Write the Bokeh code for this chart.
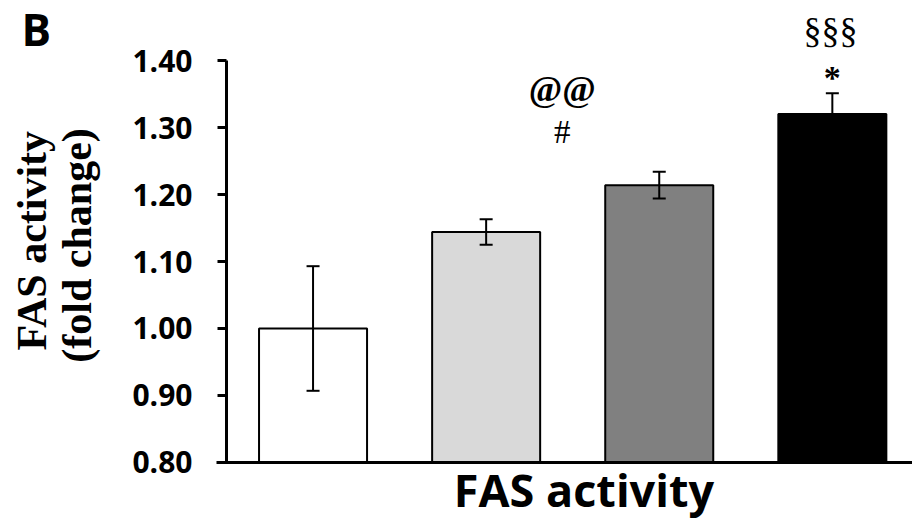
import math
from bokeh.plotting import figure
from bokeh.models import (ColumnDataSource, Range1d, FixedTicker, PrintfTickFormatter,
                          Whisker, TeeHead, Label)
from bokeh.embed import file_html
from bokeh.resources import INLINE

# ---- data ----
groups = [1, 2, 3, 4]
means = [1.000, 1.144, 1.214, 1.320]
errors = [0.093, 0.019, 0.020, 0.031]
bar_colors = ["#ffffff", "#d9d9d9", "#808080", "#000000"]
y_ticks = [0.80, 0.90, 1.00, 1.10, 1.20, 1.30, 1.40]
y_title = ["FAS activity", "(fold change)"]
x_title = "FAS activity"
panel_letter = "B"
marks_top = [("@@", 2.44, 1.357, "bold", "36px"), ("#", 2.44, 1.293, "normal", "33px"),
             ("\u00a7\u00a7\u00a7", 3.99, 1.446, "normal", "36px"), ("*", 4.00, 1.375, "bold", "34px")]

src = ColumnDataSource(dict(
    x=groups, top=means, color=bar_colors,
    upper=[m + e for m, e in zip(means, errors)],
    lower=[m - e for m, e in zip(means, errors)],
))

X0, X1 = -0.8056, 4.4631
Y0, Y1 = 0.7119, 1.4896
p = figure(width=912, height=521, output_backend="svg", toolbar_location=None,
           x_range=Range1d(X0, X1), y_range=Range1d(Y0, Y1),
           min_border_left=0, min_border_right=0, min_border_top=0, min_border_bottom=0)
p.outline_line_color = None
p.grid.visible = False
p.background_fill_color = "white"

p.vbar(x="x", top="top", bottom=0.8, width=0.624, source=src, fill_color="color",
       line_color="black", line_width=2)

w = Whisker(base="x", upper="upper", lower="lower", source=src, line_color="black", line_width=2,
            upper_head=TeeHead(size=13, line_width=2, line_color="black"),
            lower_head=TeeHead(size=13, line_width=2, line_color="black"), level="overlay")
p.add_layout(w)

# y axis
ya = p.yaxis[0]
ya.fixed_location = 0.5
ya.bounds = (0.8, 1.4)
ya.ticker = FixedTicker(ticks=y_ticks)
ya.formatter = PrintfTickFormatter(format="%.2f")
ya.axis_line_width = 3
ya.axis_line_color = "black"
ya.major_tick_line_width = 3
ya.major_tick_out = 9
ya.major_tick_in = 0
ya.minor_tick_line_color = None
ya.major_label_text_font = "Open Sans"
ya.major_label_text_font_style = "bold"
ya.major_label_text_font_size = "30px"
ya.major_label_text_color = "black"
ya.major_label_standoff = 25

# x axis
xa = p.xaxis[0]
xa.fixed_location = 0.8
xa.bounds = (0.44, X1)
xa.ticker = FixedTicker(ticks=[])
xa.axis_line_width = 3
xa.axis_line_color = "black"
xa.major_tick_line_color = None
xa.minor_tick_line_color = None
xa.major_label_text_color = None

# axis titles and annotations
p.add_layout(Label(x=2.565, y=0.759, text=x_title, text_font="Open Sans", text_font_style="bold",
                   text_font_size="45px", text_align="center", text_baseline="alphabetic",
                   text_color="black"))
p.add_layout(Label(x=-0.621, y=1.131, text=y_title[0], angle=math.pi / 2,
                   text_font="Liberation Serif", text_font_style="bold", text_font_size="42px",
                   text_align="center", text_baseline="alphabetic", text_color="black"))
p.add_layout(Label(x=-0.365, y=1.124, text=y_title[1], angle=math.pi / 2,
                   text_font="Liberation Serif", text_font_style="bold", text_font_size="42px",
                   text_align="center", text_baseline="alphabetic", text_color="black"))
p.add_layout(Label(x=-0.684, y=1.447, text=panel_letter, text_font="Open Sans",
                   text_font_style="bold", text_font_size="44px", text_align="left",
                   text_baseline="alphabetic", text_color="black"))
for txt, mx, my, style, size in marks_top:
    p.add_layout(Label(x=mx, y=my, text=txt, text_font="Liberation Serif", text_font_style=style,
                       text_font_size=size, text_align="center", text_baseline="alphabetic",
                       text_color="black"))

open("out.html", "w").write(file_html(p, INLINE))
